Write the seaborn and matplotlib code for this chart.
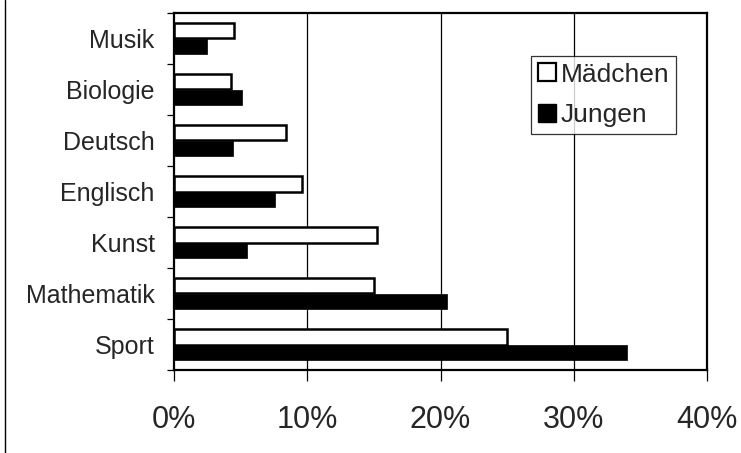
import matplotlib
matplotlib.use("Agg")
import matplotlib.pyplot as plt
from matplotlib.patches import Patch
from matplotlib.lines import Line2D
import seaborn as sns
import pandas as pd
import numpy as np

faecher = ["Musik", "Biologie", "Deutsch", "Englisch", "Kunst", "Mathematik", "Sport"]
maedchen = [4.5, 4.3, 8.4, 9.6, 15.2, 15.0, 25.0]
jungen = [2.5, 5.1, 4.4, 7.6, 5.5, 20.5, 34.0]
gruppen = ["Mädchen", "Jungen"]
x_ticks = [0, 10, 20, 30, 40]
x_labels = ["0%", "10%", "20%", "30%", "40%"]

df = pd.DataFrame({
    "Fach": faecher * 2,
    "Anteil": maedchen + jungen,
    "Gruppe": ["Mädchen"] * len(faecher) + ["Jungen"] * len(faecher),
})

sns.set_theme(style="white")
plt.rcParams["font.family"] = ["Liberation Sans", "DejaVu Sans"]

fig = plt.figure(figsize=(7.41, 4.53), dpi=100)
ax = fig.add_axes([174 / 741, 1 - 370 / 453, (707 - 174) / 741, (370 - 13) / 453])

sns.barplot(
    data=df, x="Anteil", y="Fach", hue="Gruppe", order=faecher, hue_order=gruppen,
    orient="h", width=0.6, palette={"Mädchen": "white", "Jungen": "black"},
    edgecolor="black", linewidth=1.8, legend=False, ax=ax,
)
for p in ax.patches:
    if p.get_facecolor()[0] < 0.5:
        p.set_linewidth(0.5)

ax.set_xlim(0, 40)
ax.set_ylim(len(faecher) - 0.5, -0.5)
ax.set_xlabel("")
ax.set_ylabel("")

# vertical grid lines
for v in x_ticks[1:-1]:
    ax.axvline(v, color="black", lw=0.9, zorder=0)

ax.set_xticks(x_ticks)
ax.set_xticklabels(x_labels, fontsize=22)
ax.tick_params(axis="x", direction="out", length=8, width=0.9, color="black", pad=17, bottom=True)

ax.set_yticks(np.arange(-0.5, len(faecher), 1.0))
ax.set_yticklabels([])
ax.set_yticks(np.arange(len(faecher)), minor=True)
ax.set_yticklabels(faecher, minor=True, fontsize=18)
ax.tick_params(axis="y", which="major", direction="out", length=5, width=0.9, color="black", left=True)
ax.tick_params(axis="y", which="minor", length=0, pad=14)

for s in ax.spines.values():
    s.set_visible(True)
    s.set_color("black")
    s.set_linewidth(1.6)

handles = [
    Patch(facecolor="white", edgecolor="black", linewidth=1.6, label="Mädchen"),
    Patch(facecolor="black", edgecolor="black", label="Jungen"),
]
leg = ax.legend(
    handles=handles, loc="upper left", bbox_to_anchor=(531 / 741, 1 - 56 / 453),
    bbox_transform=fig.transFigure, fontsize=19, frameon=True, fancybox=False,
    handlelength=0.68, handleheight=0.68, handletextpad=0.2, borderpad=0.25,
    labelspacing=0.62, borderaxespad=0,
)
leg.get_frame().set_edgecolor("black")
leg.get_frame().set_linewidth(0.9)

# outer frame line on the left edge
fig.add_artist(Line2D([5 / 741, 5 / 741], [0, 1], transform=fig.transFigure, color="black", lw=1.0))

fig.savefig("out.png", dpi=100)
